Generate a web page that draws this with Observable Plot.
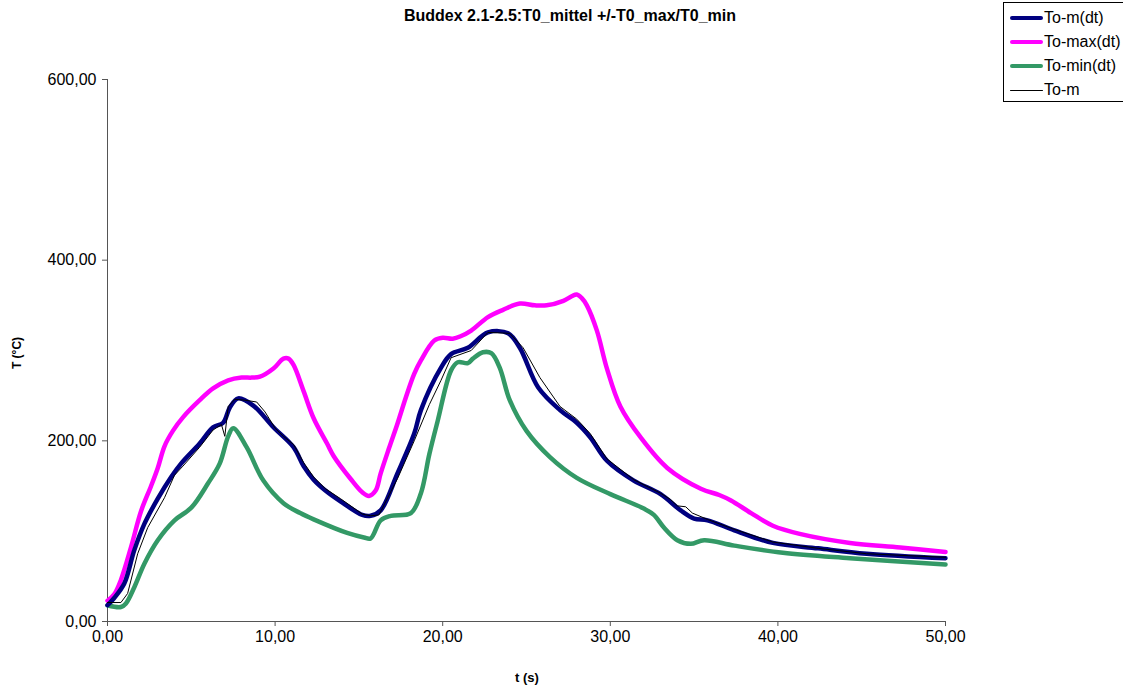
<!DOCTYPE html>
<html>
<head>
<meta charset="utf-8">
<script src="https://cdn.jsdelivr.net/npm/d3@7"></script>
<script src="https://cdn.jsdelivr.net/npm/@observablehq/plot@0.6"></script>
<style>
  body { margin: 0; background: #fff; font-family: "Liberation Sans", Arial, sans-serif; }
  #wrap { position: relative; width: 1123px; height: 686px; overflow: hidden; }
  #title { position: absolute; top: 7px; left: 370px; width: 400px; text-align: center; font-weight: bold; font-size: 16px; white-space: nowrap; }
  #legend { position: absolute; left: 1003px; top: 2px; width: 130px; height: 100px; border: 1px solid #000; box-sizing: border-box; font-size: 16px; background: #fff; }
  .li { position: absolute; left: 6px; height: 20px; display: flex; align-items: center; }
  .sw { width: 33px; margin-right: 1px; }
  #ylab { position: absolute; left: 17px; top: 353px; transform: translate(-50%, -50%) rotate(-90deg); font-weight: bold; font-size: 12px; white-space: nowrap; }
  #xlab { position: absolute; left: 527px; top: 670px; transform: translateX(-50%); font-weight: bold; font-size: 13px; }
</style>
</head>
<body>
<div id="wrap">
  <div id="chart"></div>
  <div id="title">Buddex 2.1-2.5:T0_mittel +/-T0_max/T0_min</div>
  <div id="ylab">T (°C)</div>
  <div id="xlab">t (s)</div>
  <div id="legend"></div>
</div>
<script>
// Series names and colours
const seriesNames = ["To-m(dt)", "To-max(dt)", "To-min(dt)", "To-m"];
const seriesColors = ["#000080", "#FF00FF", "#339966", "#000000"];
const seriesWidths = [4.5, 4.5, 4.5, 1];

// To-max(dt): [t, T]
const toMax = [[0,23],[0.4,30],[0.8,46],[1.4,82],[2.0,122],[2.6,150],[3.0,170],[3.4,194],[3.9,211],[4.5,226],[5.5,245],[6.3,258],[7.2,267],[8.0,270],[8.6,270],[9.1,271],[9.9,280],[10.5,291],[10.8,291],[11.1,284],[11.7,255],[12.3,225],[13.1,197],[13.5,183],[14.5,158],[15.2,143],[15.6,139],[16.0,145],[16.3,164],[16.8,192],[17.3,219],[17.8,248],[18.3,274],[18.7,289],[19.5,311],[20.0,314],[20.6,313],[21.1,316],[21.7,322],[22.7,337],[23.6,345],[24.6,352],[25.5,350],[26.2,350],[27.2,355],[27.7,360],[28.0,362],[28.3,358],[28.6,350],[29.2,322],[29.8,280],[30.6,238],[31.8,204],[33.4,170],[35.4,147],[36.5,140],[37.2,134],[38.4,120],[39.7,106],[41.3,97],[44.3,87],[47.3,82],[50,77]];

// To-m(dt)
const toMdt = [[0,18],[0.4,26],[1.0,42],[1.6,79],[2.2,108],[3.0,136],[3.8,160],[4.4,175],[5.5,197],[6.3,215],[6.9,220],[7.3,237],[7.8,247],[8.7,239],[9.9,215],[11.1,193],[11.7,172],[12.3,157],[13.0,145],[13.9,133],[15.2,118],[15.7,117],[16.3,123],[17.3,164],[18.3,208],[18.7,234],[19.9,281],[20.5,296],[21.5,303],[22.7,320],[23.9,319],[24.6,303],[25.7,259],[27.0,234],[28.0,220],[28.8,204],[29.8,178],[31.4,156],[33.0,141],[34.2,123],[35.0,114],[35.8,112],[37.4,101],[39.7,87],[42.4,81],[45.3,75],[50,70]];

// To-min(dt)
const toMin = [[0,18],[0.8,16],[1.1,20],[1.6,38],[2.2,64],[3.0,90],[4.0,112],[5.0,126],[6.0,153],[6.7,175],[7.2,205],[7.5,214],[8.3,193],[9.3,156],[10.5,131],[11.5,120],[12.3,113],[14.3,98],[15.3,93],[15.7,92],[16.3,112],[16.9,117],[18.1,120],[18.7,142],[19.2,185],[19.7,222],[20.5,278],[20.9,287],[21.5,286],[21.8,291],[22.4,298],[22.9,297],[23.4,281],[24.0,245],[25.0,211],[26.4,182],[28.0,159],[30.0,141],[32.0,125],[32.6,118],[33.2,104],[34.0,90],[34.8,86],[35.6,90],[37.4,84],[40.3,76],[44.3,70],[50,63]];

// To-m (thin, unsmoothed)
const toM = [[0,21],[0.8,21],[1.2,31],[1.8,75],[2.4,104],[3.4,137],[4.0,162],[4.5,172],[5.5,193],[6.3,212],[6.8,218],[7.0,205],[7.2,238],[7.6,246],[8.2,245],[8.9,243],[9.4,232],[10.0,214],[10.5,205],[11.1,196],[11.7,176],[12.3,160],[13.0,147],[13.9,136],[15.2,119],[15.7,117],[16.2,118],[16.8,140],[17.3,158],[18.3,200],[19.2,240],[19.9,267],[20.5,292],[21.7,300],[22.7,320],[24.0,319],[24.8,303],[25.8,270],[27.0,238],[28.0,224],[28.8,208],[29.8,180],[31.4,157],[33.0,142],[33.6,135],[34.0,128],[34.5,127],[34.9,120],[35.8,113],[37.4,102],[39.7,88],[42.4,81],[45.3,75],[50,71]];

const yTicks = [0, 200, 400, 600];
const xTicks = [0, 10, 20, 30, 40, 50];

const rows = (arr, name) => arr.map(([t, T]) => ({t, T, name}));
const fmt = d => d.toFixed(2).replace(".", ",");

const chart = Plot.plot({
  width: 1123,
  height: 686,
  marginLeft: 107,
  marginRight: 178,
  marginTop: 79,
  marginBottom: 65,
  style: {fontFamily: "'Liberation Sans', Arial, sans-serif", fontSize: "16px", color: "#000", background: "#fff"},
  x: {domain: [0, 50], ticks: xTicks, tickFormat: fmt, label: null},
  y: {domain: [0, 600], ticks: yTicks, tickFormat: fmt, label: null},
  marks: [
    Plot.axisX({ticks: xTicks, tickFormat: fmt, label: null, tickSize: 5, tickPadding: 4, fontSize: 16, stroke: "#555"}),
    Plot.axisY({ticks: yTicks, tickFormat: fmt, label: null, tickSize: 5, tickPadding: 6, fontSize: 16, stroke: "#555"}),
    Plot.ruleX([0], {stroke: "#555"}),
    Plot.ruleY([0], {stroke: "#555"}),
    Plot.line(rows(toMax, seriesNames[1]), {x: "t", y: "T", stroke: seriesColors[1], strokeWidth: seriesWidths[1], curve: "catmull-rom"}),
    Plot.line(rows(toMin, seriesNames[2]), {x: "t", y: "T", stroke: seriesColors[2], strokeWidth: seriesWidths[2], curve: "catmull-rom"}),
    Plot.line(rows(toMdt, seriesNames[0]), {x: "t", y: "T", stroke: seriesColors[0], strokeWidth: seriesWidths[0], curve: "catmull-rom"}),
    Plot.line(rows(toM, seriesNames[3]), {x: "t", y: "T", stroke: seriesColors[3], strokeWidth: seriesWidths[3], curve: "linear"})
  ]
});
document.getElementById("chart").appendChild(chart);

// Legend
const leg = document.getElementById("legend");
const tops = [5, 29, 53, 77];
seriesNames.forEach((n, i) => {
  const d = document.createElement("div");
  d.className = "li";
  d.style.top = tops[i] + "px";
  const sw = document.createElement("div");
  sw.className = "sw";
  sw.style.height = seriesWidths[i] + "px";
  sw.style.background = seriesColors[i];
  sw.style.borderRadius = "2px";
  const tx = document.createElement("span");
  tx.textContent = n;
  d.appendChild(sw); d.appendChild(tx);
  leg.appendChild(d);
});
</script>
</body>
</html>
